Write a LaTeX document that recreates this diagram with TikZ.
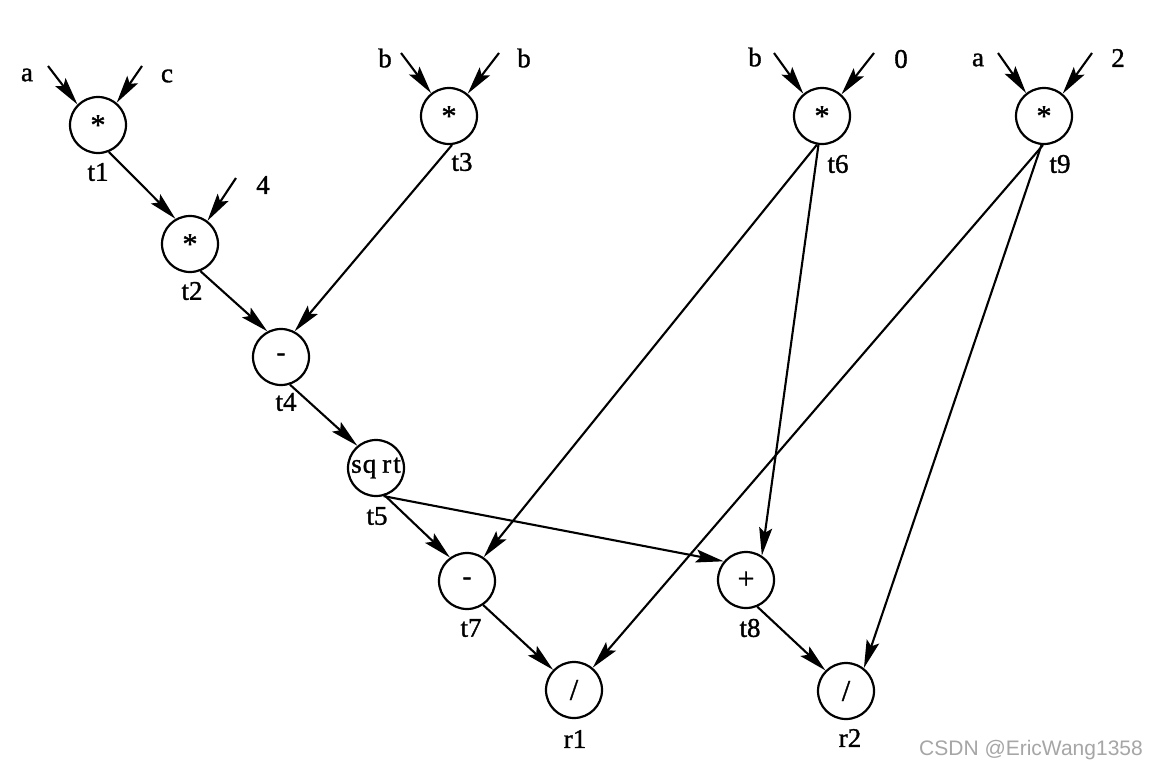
\documentclass[tikz,border=0pt]{standalone}
\usepackage{fontspec}
\setmainfont{Liberation Serif}
\newfontfamily\lblfont[FakeBold=1.2]{Liberation Serif}
\newfontfamily\wmfont{Liberation Sans}
\usetikzlibrary{arrows.meta}
\begin{document}
\begin{tikzpicture}[x=1pt,y=-1pt,
  op/.style={circle,draw,line width=2.2pt,minimum size=56pt,inner sep=0pt,font=\lblfont\fontsize{26}{26}\selectfont},
  lbl/.style={font=\lblfont\fontsize{27}{27}\selectfont,inner sep=0pt},
  edge/.style={line width=2.1pt,-{Stealth[length=28pt,width=13pt,inset=5pt]}},
  wm/.style={font=\wmfont\fontsize{21}{21}\selectfont,text=black!35,inner sep=0pt},
]
\useasboundingbox[fill=white] (0,0) rectangle (1150,771);

% operator nodes
\node[op] (t1) at (98,125) {\raisebox{-5pt}{\fontsize{30}{30}\selectfont *}};
\node[op] (t2) at (190,244) {\raisebox{-5pt}{\fontsize{30}{30}\selectfont *}};
\node[op] (t3) at (449,116) {\raisebox{-5pt}{\fontsize{30}{30}\selectfont *}};
\node[op] (t6) at (822,116) {\raisebox{-5pt}{\fontsize{30}{30}\selectfont *}};
\node[op] (t9) at (1044,116) {\raisebox{-5pt}{\fontsize{30}{30}\selectfont *}};
\node[op] (t4) at (281,357) {-};
\node[op] (t5) at (376,468) {\fontsize{27}{27}\selectfont s\kern1pt q\kern6pt r\kern2pt t};
\node[op] (t7) at (467,581) {-};
\node[op] (t8) at (746,580) {\fontsize{30}{30}\selectfont +};
\node[op] (r1) at (574,690) {\fontsize{30}{30}\selectfont /};
\node[op] (r2) at (846,691) {\fontsize{30}{30}\selectfont /};

% result labels
\node[lbl] (lt1) at (98,172) {t1};
\node[lbl] (lt2) at (192,291) {t2};
\node[lbl] (lt3) at (462,162) {t3};
\node[lbl] (lt4) at (286,402) {t4};
\node[lbl] (lt5) at (377,516) {t5};
\node[lbl] (lt6) at (838,164) {t6};
\node[lbl] (lt7) at (471,628) {t7};
\node[lbl] (lt8) at (750,628) {t8};
\node[lbl] (lt9) at (1060,164) {t9};
\node[lbl] (lr1) at (575,739) {r1};
\node[lbl] (lr2) at (850,738) {r2};

% input labels
\node[lbl] (ina1) at (27,75) {a};
\node[lbl] (inc1) at (167,76) {c};
\node[lbl] (in42) at (263,185) {4};
\node[lbl] (inb3) at (385,58) {b};
\node[lbl] (inb3r) at (524,58) {b};
\node[lbl] (inb6) at (755,57) {b};
\node[lbl] (in06) at (901,59) {0};
\node[lbl] (ina9) at (978,60) {a};
\node[lbl] (in29) at (1118,58) {2};

% input arrow starts
\coordinate (s1a) at (48,66);
\coordinate (s1c) at (142,66);
\coordinate (s24) at (236,178);
\coordinate (s3a) at (401,53);
\coordinate (s3b) at (499,53);
\coordinate (s6a) at (774,53);
\coordinate (s6b) at (874,53);
\coordinate (s9a) at (998,53);
\coordinate (s9b) at (1092,53);

\draw[edge] (s1a) -- (t1.135);
\draw[edge] (s1c) -- (t1.50);
\draw[edge] (s24) -- (t2.53);
\draw[edge] (s3a) -- (t3.128);
\draw[edge] (s3b) -- (t3.50);
\draw[edge] (s6a) -- (t6.130);
\draw[edge] (s6b) -- (t6.48);
\draw[edge] (s9a) -- (t9.128);
\draw[edge] (s9b) -- (t9.50);

% internal edges
\draw[edge] (t1.-68) -- (t2.120);
\draw[edge] (t2.-69) -- (t4.118);
\draw[edge] (t3.-84) -- (t4.62);
\draw[edge] (t4.-72) -- (t5.130);
\draw[edge] (t5.-72) -- (t7.126);
\draw[edge] (t5.-75) -- (t8.140);
\draw[edge] (t6.-100) -- (t7.55);
\draw[edge] (t6.-97) -- (t8.57);
\draw[edge] (t9.-92) -- (r1.50);
\draw[edge] (t9.-95) -- (r2.52);
\draw[edge] (t7.-56) -- (r1.136);
\draw[edge] (t8.-67) -- (r2.135);

\node[wm] (wmk) at (1031,750) {CSDN @EricWang1358};
\end{tikzpicture}
\end{document}
